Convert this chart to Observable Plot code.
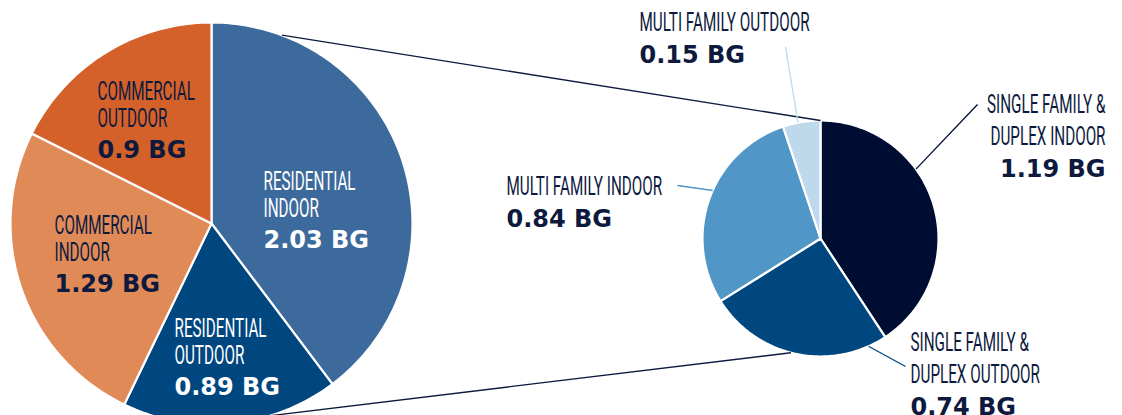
<!DOCTYPE html>
<html><head><meta charset="utf-8">
<script src="https://cdn.jsdelivr.net/npm/d3@7"></script>
<script src="https://cdn.jsdelivr.net/npm/@observablehq/plot@0.6"></script>
<style>
html,body{margin:0;padding:0;background:#fff;overflow:hidden;}
#chart{width:1122px;height:415px;overflow:hidden;}
</style></head><body><div id="chart"></div>
<script>
// ---------------- DATA ----------------
const usageCategories = ["RESIDENTIAL\nINDOOR", "RESIDENTIAL\nOUTDOOR", "COMMERCIAL\nINDOOR", "COMMERCIAL\nOUTDOOR"];
const usageValues = [2.03, 0.89, 1.29, 0.9];
const residentialCategories = ["SINGLE FAMILY &\nDUPLEX INDOOR", "SINGLE FAMILY &\nDUPLEX OUTDOOR", "MULTI FAMILY INDOOR", "MULTI FAMILY OUTDOOR"];
const residentialValues = [1.19, 0.74, 0.84, 0.15];
const valueUnit = "BG";

// ---------------- LAYOUT & STYLE ----------------
const W = 1122, H = 415;
const leftPie = {cx: 211, cy: 223, r: 201};
const rightPie = {cx: 820, cy: 238, r: 118};
const navy = "#0d1a3e";
const usageColors = ["#3d6a9d", "#00467f", "#e08a58", "#d4612a"];
const residentialColors = ["#000d33", "#00467f", "#5096c6", "#bed9ec"];
// name-label anchor (top of capitals) relative to pie centre
const usageLabelLayout = [
  {dx: 52, dy: -51, anchor: "start", fill: "white"},
  {dx: -37, dy: 96, anchor: "start", fill: "white"},
  {dx: -157, dy: -7, anchor: "start", fill: navy},
  {dx: -114, dy: -141, anchor: "start", fill: navy}
];
const residentialLabelLayout = [
  {dx: 285, dy: -143, anchor: "end", fill: navy},
  {dx: 90, dy: 95, anchor: "start", fill: navy},
  {dx: -314, dy: -61, anchor: "start", fill: navy},
  {dx: -181, dy: -225, anchor: "start", fill: navy}
];
// leader lines: angle on pie edge (deg), end point relative to centre
const residentialLeaders = [
  {angle: 54, dx: 157, dy: -134},
  {angle: 156, dx: 85, dy: 128},
  {angle: 294, dx: -143, dy: -53},
  {angle: 349, dx: -35, dy: -192}
];
// connector lines between the two pies: angles (deg) on left and right pie
const connectors = [{a1: 20.5, a2: 0}, {a1: 163, a2: 194.5}];
const nameFont = {family: "Roboto", size: 25, scaleX: 0.61};
const valueFont = {family: "DejaVu Sans", size: 24};
const leftLineStep = 27, rightLineStep = 32, leftValueGap = 4, rightValueGap = 0;

// ---------------- DERIVED ----------------
const rad = d => d * Math.PI / 180;
function edge(pie, a) { return [pie.cx + pie.r * Math.sin(a), pie.cy - pie.r * Math.cos(a)]; }

function slicePoints(values, names, colors, pie) {
  const arcs = d3.pie().sort(null)(values);
  const pts = [];
  arcs.forEach((a, i) => {
    const key = names[i];
    pts.push({key, fill: colors[i], x: pie.cx, y: pie.cy});
    const n = Math.max(2, Math.ceil((a.endAngle - a.startAngle) / rad(1)));
    for (let k = 0; k <= n; k++) {
      const t = a.startAngle + (a.endAngle - a.startAngle) * k / n;
      const [x, y] = edge(pie, t);
      pts.push({key, fill: colors[i], x, y});
    }
  });
  return pts;
}
const slices = [
  ...slicePoints(usageValues, usageCategories, usageColors, leftPie),
  ...slicePoints(residentialValues, residentialCategories, residentialColors, rightPie)
];

function labelsFor(names, values, layout, pie, side, step, gap) {
  // Plot places the first line's baseline at 0.71 × lineHeight em; compensate so y is the cap top
  const shift = 0.71 * (step / nameFont.size - 1) * nameFont.size;
  return names.map((name, i) => {
    const L = layout[i];
    const lines = name.split("\n").length;
    const y = pie.cy + L.dy;
    return {name, value: `${values[i]} ${valueUnit}`, x: pie.cx + L.dx, y: y - shift,
      vy: y + lines * step + gap, anchor: L.anchor, fill: L.fill, side};
  });
}
const labels = [
  ...labelsFor(usageCategories, usageValues, usageLabelLayout, leftPie, "left", leftLineStep, leftValueGap),
  ...labelsFor(residentialCategories, residentialValues, residentialLabelLayout, rightPie, "right", rightLineStep, rightValueGap)
];

const leaders = residentialLeaders.map((L, i) => {
  const [x1, y1] = edge(rightPie, rad(L.angle));
  return {x1, y1, x2: rightPie.cx + L.dx, y2: rightPie.cy + L.dy, stroke: residentialColors[i]};
});
const links = connectors.map(c => {
  const [x1, y1] = edge(leftPie, rad(c.a1));
  const [x2, y2] = edge(rightPie, rad(c.a2));
  return {x1, y1, x2, y2};
});

const nameOpts = (side, anchor) => ({
  filter: d => d.side === side && d.anchor === anchor,
  x: "x", y: "y", text: "name", fill: "fill", textAnchor: anchor, lineAnchor: "top",
  fontFamily: nameFont.family, fontWeight: 400, fontSize: nameFont.size,
  lineHeight: (side === "left" ? leftLineStep : rightLineStep) / nameFont.size
});
const valueOpts = (anchor) => ({
  filter: d => d.anchor === anchor,
  x: "x", y: "vy", text: "value", fill: "fill", textAnchor: anchor, lineAnchor: "top",
  fontFamily: valueFont.family, fontWeight: "bold", fontSize: valueFont.size
});

const chart = Plot.plot({
  width: W, height: H, margin: 0,
  x: {domain: [0, W], axis: null},
  y: {domain: [0, H], reverse: true, axis: null},
  color: {type: "identity"},
  style: {background: "white", overflow: "hidden"},
  marks: [
    Plot.line(slices, {x: "x", y: "y", z: "key", fill: "fill", stroke: "white", strokeWidth: 2.2, curve: "linear-closed"}),
    Plot.link(links, {x1: "x1", y1: "y1", x2: "x2", y2: "y2", stroke: navy, strokeWidth: 1.3}),
    Plot.link(leaders, {x1: "x1", y1: "y1", x2: "x2", y2: "y2", stroke: "stroke", strokeWidth: 1.3}),
    Plot.text(labels, nameOpts("left", "start")),
    Plot.text(labels, nameOpts("right", "start")),
    Plot.text(labels, nameOpts("right", "end")),
    Plot.text(labels, valueOpts("start")),
    Plot.text(labels, valueOpts("end"))
  ]
});

// condense the category labels horizontally (narrow display face)
chart.querySelectorAll(`g[font-family="${nameFont.family}"] text`).forEach(t => {
  const x = +t.getAttribute("x") || 0, y = +t.getAttribute("y") || 0;
  const tr = t.getAttribute("transform") || "";
  t.setAttribute("transform", `${tr} translate(${x},${y}) scale(${nameFont.scaleX},1) translate(${-x},${-y})`);
});
document.getElementById("chart").appendChild(chart);
</script>
</body></html>
